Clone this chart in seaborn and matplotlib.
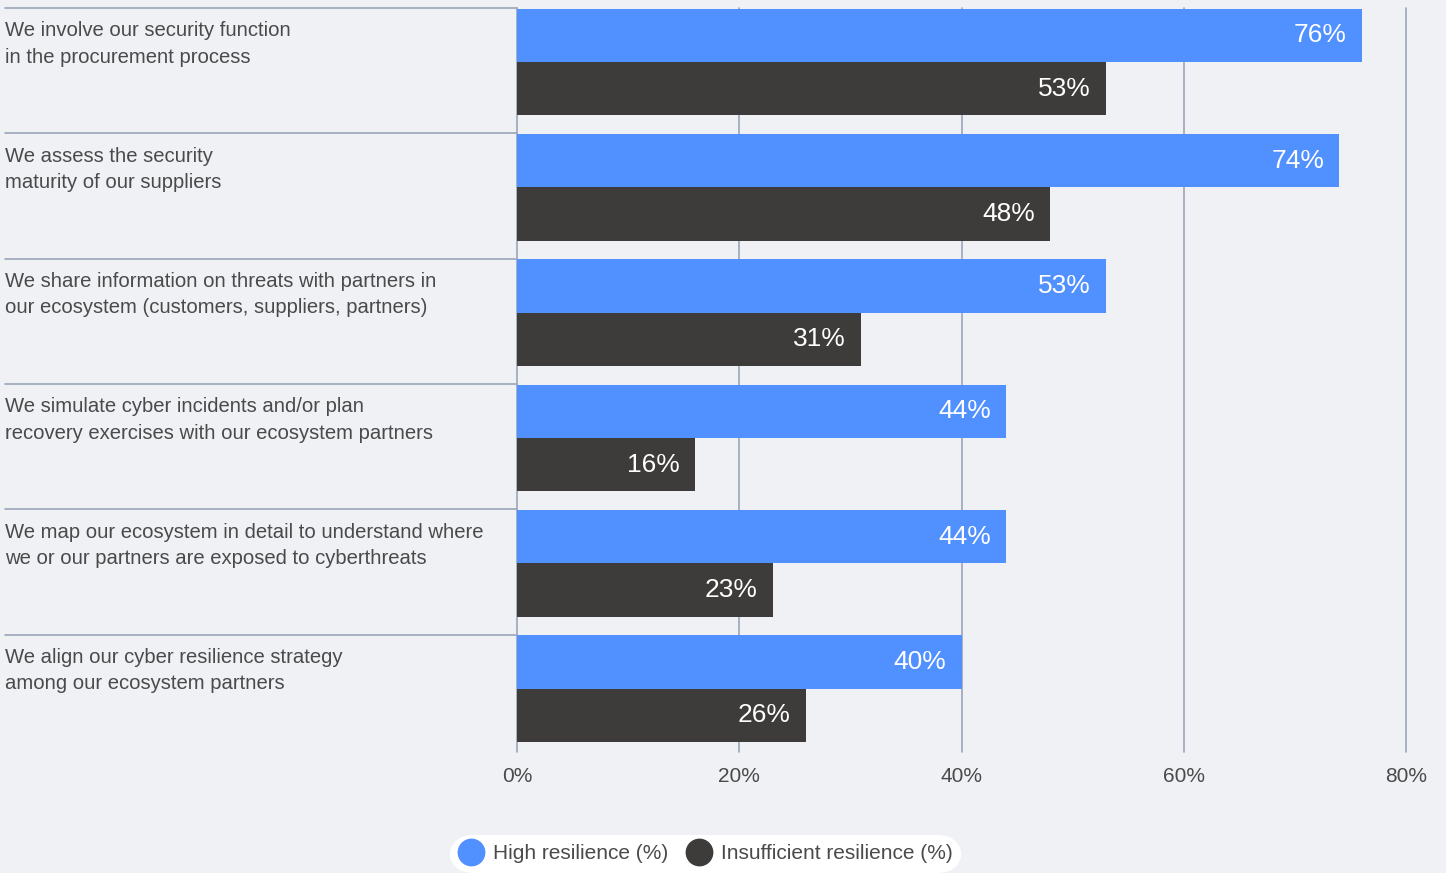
import pandas as pd
import matplotlib.pyplot as plt
import seaborn as sns
from matplotlib.lines import Line2D
from matplotlib.transforms import blended_transform_factory

# data
statements = [
    "We involve our security function\nin the procurement process",
    "We assess the security\nmaturity of our suppliers",
    "We share information on threats with partners in\nour ecosystem (customers, suppliers, partners)",
    "We simulate cyber incidents and/or plan\nrecovery exercises with our ecosystem partners",
    "We map our ecosystem in detail to understand where\nwe or our partners are exposed to cyberthreats",
    "We align our cyber resilience strategy\namong our ecosystem partners",
]
groups = ["High resilience (%)", "Insufficient resilience (%)"]
high = [76, 74, 53, 44, 44, 40]
insufficient = [53, 48, 31, 16, 23, 26]
ticks = [0, 20, 40, 60, 80]

df = pd.DataFrame({
    "statement": statements * 2,
    "group": [groups[0]] * len(statements) + [groups[1]] * len(statements),
    "value": high + insufficient,
})

bg = "#eff1f5"
blue = "#5090ff"
dark = "#3d3c3b"
grid = "#9ba6b9"
txt = "#4a4a4a"

sns.set_theme(style="white")
plt.rcParams["font.family"] = ["Liberation Sans", "DejaVu Sans"]

fig = plt.figure(figsize=(14.46, 8.73), dpi=100, facecolor=bg)
ax = fig.add_axes([517 / 1446, 121 / 873, 889 / 1446, 744 / 873])
ax.set_facecolor(bg)

for t in ticks:
    ax.axvline(t, color=grid, lw=1.2, zorder=0, clip_on=False)

sns.barplot(data=df, y="statement", x="value", hue="group", orient="h",
            palette=[blue, dark], width=0.85, saturation=1, legend=False,
            linewidth=0, ax=ax, zorder=2)

ax.set_xlim(0, 80)
ax.set_ylim(5.505, -0.43)
ax.set_xticks(ticks)
ax.set_xticklabels([f"{t}%" for t in ticks], fontsize=15, color=txt)
ax.tick_params(axis="x", length=0, pad=11)
ax.set_yticks([])
ax.set_xlabel("")
ax.set_ylabel("")
for s in ax.spines.values():
    s.set_visible(False)

# value labels inside the bar ends
for cont in ax.containers:
    for p in cont:
        w = p.get_width()
        ax.annotate(f"{w:.0f}%", (w, p.get_y() + p.get_height() / 2),
                    xytext=(-11, 0), textcoords="offset points",
                    ha="right", va="center", color="white", fontsize=19,
                    zorder=3)

# category separators and labels on the left
trans = blended_transform_factory(fig.transFigure, ax.transData)
for i, s in enumerate(statements):
    ax.plot([5 / 1446, 517 / 1446], [i - 0.43, i - 0.43], color=grid, lw=1.2,
            transform=trans, clip_on=False)
    ax.text(5 / 1446, i - 0.43 + 0.105, s, transform=trans, ha="left",
            va="top", fontsize=14.6, color=txt, linespacing=1.5)

handles = [Line2D([], [], marker="o", ls="", markersize=19, color=c)
           for c in [blue, dark]]
leg = fig.legend(handles, groups, loc="center", bbox_to_anchor=(0.488, 0.022),
                 ncol=2, frameon=True, fontsize=15, handletextpad=0.45,
                 columnspacing=0.9, borderpad=0.45, handlelength=1.2)
for t in leg.get_texts():
    t.set_color(txt)
fr = leg.get_frame()
fr.set_facecolor("white")
fr.set_edgecolor("none")
fr.set_alpha(1)
fr.set_boxstyle("round,pad=0,rounding_size=1.2")

fig.savefig("out.png", dpi=100, facecolor=bg)
